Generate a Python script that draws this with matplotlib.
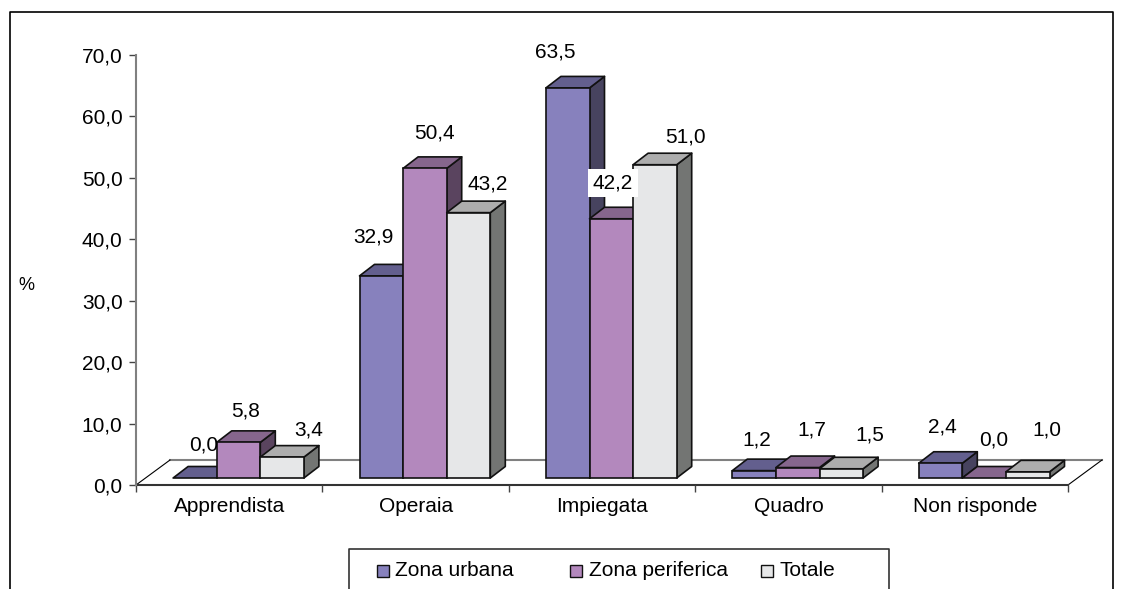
import matplotlib
matplotlib.use("Agg")
import matplotlib.pyplot as plt
from matplotlib.patches import Polygon, Rectangle
from matplotlib.lines import Line2D

plt.rcParams['font.family'] = ['Liberation Sans', 'DejaVu Sans']

categories = ["Apprendista", "Operaia", "Impiegata", "Quadro", "Non risponde"]
zona_urbana = [0.0, 32.9, 63.5, 1.2, 2.4]
zona_periferica = [5.8, 50.4, 42.2, 1.7, 0.0]
totale = [3.4, 43.2, 51.0, 1.5, 1.0]
series_names = ["Zona urbana", "Zona periferica", "Totale"]
y_ticks = [0, 10, 20, 30, 40, 50, 60, 70]

W, H = 1122, 589
front = ["#8781BD", "#B388BD", "#E6E7E8"]
top = ["#635F8E", "#86668D", "#ADADAD"]
side = ["#47435F", "#5A445F", "#737573"]
edge = "#111111"

# label centres in pixels, same order as the series
label_px = [
    [(204, 445), (373, 237), (555, 52), (757, 440), (942, 427)],
    [(246, 411), (434, 133), (613, 183), (812, 430), (994, 440)],
    [(309, 430), (488, 184), (685, 137), (870, 435), (1047, 430)],
]
legend_px = [(377, 395), (570, 589), (761, 780)]


def fx(px):
    return px / W


def fy(py):
    return 1 - py / H


fig = plt.figure(figsize=(W / 100, H / 100), dpi=100, facecolor="white")
ax = fig.add_axes([fx(136), fy(485), (1068 - 136) / W, (485 - 55) / H])
ax.set_xlim(0, 5)
ax.set_ylim(0, 70)
ax.patch.set_visible(False)

px_x = 5 / 932
px_y = 70 / 430

# floor
floor_dx, floor_dy = 34 * px_x, 25 * px_y
ax.plot([floor_dx, 5 + floor_dx], [floor_dy, floor_dy], color="#808080", lw=1.5, clip_on=False, zorder=1)
ax.plot([0, floor_dx], [0, floor_dy], color="black", lw=0.8, clip_on=False, zorder=1)
ax.plot([5, 5 + floor_dx], [0, floor_dy], color="black", lw=0.8, clip_on=False, zorder=1)

# bars, drawn left to right so each one covers the side of the previous
bar_w = 43.6 * px_x
dx, dy = 15 * px_x, 11.5 * px_y
base = 7 * px_y
shift = 9.3 * px_x
z = 2
for i in range(len(categories)):
    for j, values in enumerate([zona_urbana, zona_periferica, totale]):
        v = values[i]
        x0 = i + 0.5 + shift + (j - 1.5) * bar_w
        x1 = x0 + bar_w
        y1 = base + v
        kw = dict(edgecolor=edge, lw=1.2, clip_on=False, joinstyle="round", zorder=z)
        ax.add_patch(Polygon([(x1, base), (x1 + dx, base + dy), (x1 + dx, y1 + dy), (x1, y1)], facecolor=side[j], **kw))
        ax.add_patch(Polygon([(x0, y1), (x0 + dx, y1 + dy), (x1 + dx, y1 + dy), (x1, y1)], facecolor=top[j], **kw))
        if v > 0:
            ax.bar(x0, v, bar_w, bottom=base, align="edge", color=front[j], edgecolor=edge, lw=1.2, clip_on=False, zorder=z)
        z += 1

# axes
for s in ["top", "right"]:
    ax.spines[s].set_visible(False)
ax.spines["left"].set_color("#808080")
ax.spines["left"].set_linewidth(1.5)
ax.spines["bottom"].set_color("#333333")
ax.spines["bottom"].set_linewidth(1.5)
ax.spines["bottom"].set_zorder(1)
ax.set_yticks(y_ticks)
ax.set_yticklabels([f"{t:.1f}".replace(".", ",") for t in y_ticks], fontsize=15)
ax.set_xticks(range(len(categories) + 1))
ax.set_xticklabels([])
ax.set_xticks([i + 0.5 for i in range(len(categories))], categories, minor=True, fontsize=15)
ax.tick_params(axis="x", which="minor", length=0, pad=9)
ax.tick_params(axis="x", which="major", length=4.7, width=1, color="#444444")
ax.tick_params(axis="y", length=4.7, width=1, color="#444444", pad=5)

fig.text(fx(26), fy(285), "%", fontsize=13, ha="center", va="center")

# value labels
for j, values in enumerate([zona_urbana, zona_periferica, totale]):
    for i, v in enumerate(values):
        lx, ly = label_px[j][i]
        bbox = None
        if categories[i] == "Impiegata" and j == 1:
            bbox = dict(facecolor="white", edgecolor="none", pad=3.5)
        fig.text(fx(lx), fy(ly), f"{v:.1f}".replace(".", ","), fontsize=15,
                 ha="center", va="center", bbox=bbox, zorder=10)

# outer frame and legend box run past the bottom of the picture
fig.add_artist(Line2D([fx(10), fx(10), fx(1113), fx(1113)], [0, fy(12), fy(12), 0], color="black", lw=1.2))
fig.add_artist(Line2D([fx(349), fx(349), fx(889), fx(889)], [0, fy(549), fy(549), 0], color="#333333", lw=1.2))
for name, color, (sx, tx) in zip(series_names, front, legend_px):
    fig.add_artist(Rectangle((fx(sx), fy(577)), 12 / W, 12 / H, transform=fig.transFigure,
                             facecolor=color, edgecolor=edge, lw=1))
    fig.text(fx(tx), fy(571), name, fontsize=15, ha="left", va="center")

fig.savefig("out.png", dpi=100)
